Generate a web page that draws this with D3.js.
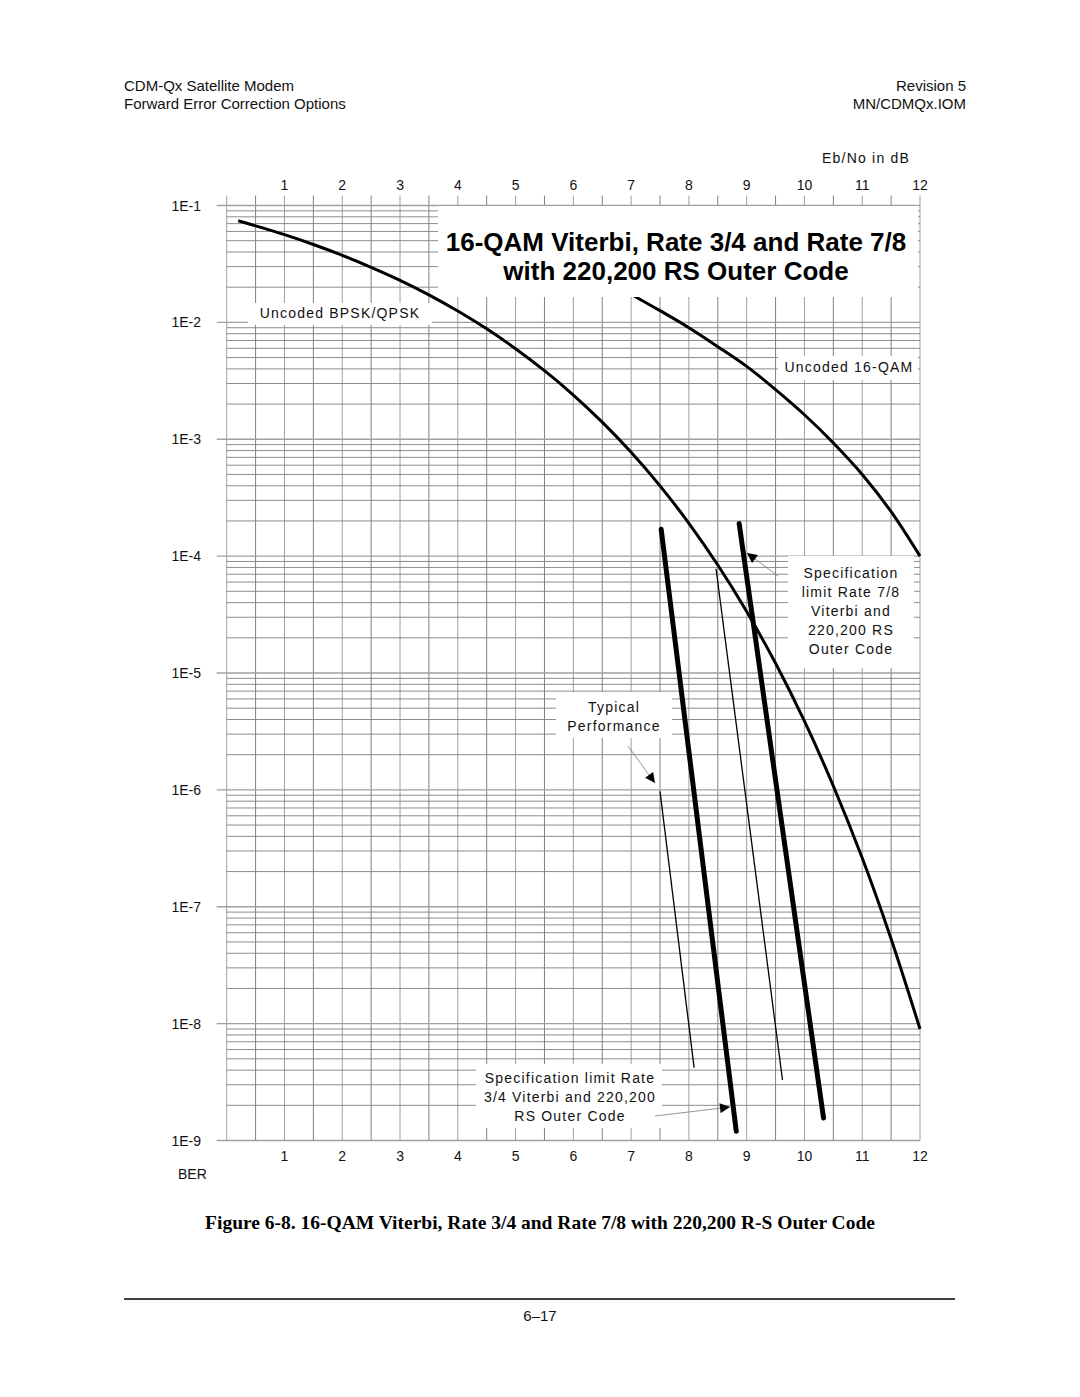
<!DOCTYPE html>
<html>
<head>
<meta charset="utf-8">
<script src="https://cdn.jsdelivr.net/npm/d3@7"></script>
<style>
  body { margin: 0; background: #fff; }
  svg { display: block; }
  .hdr { font-family: "Liberation Sans", Arial, sans-serif; font-size: 15px; fill: #111; }
  .tick-lbl { font-family: "Liberation Sans", Arial, sans-serif; font-size: 14px; fill: #111; }
  .note { font-family: "Liberation Sans", Arial, sans-serif; font-size: 14px; fill: #111; letter-spacing: 1.2px; }
</style>
</head>
<body>
<svg id="page" width="1080" height="1397"></svg>
<script>
// Eb/No (dB) vs BER
const qpskEbNo = [0.2, 0.5, 1, 1.5, 2, 2.5, 3, 3.5, 4, 4.5, 5, 5.5, 6, 6.5, 7, 7.5, 8, 8.5, 9, 9.5, 10, 10.5, 11, 11.5, 12];
const qpskBer  = [7.4e-2, 6.7e-2, 5.63e-2, 4.64e-2, 3.75e-2, 2.96e-2, 2.29e-2, 1.72e-2, 1.25e-2, 8.8e-3, 5.95e-3, 3.86e-3, 2.39e-3, 1.40e-3, 7.73e-4, 3.99e-4, 1.91e-4, 8.4e-5, 3.36e-5, 1.21e-5, 3.87e-6, 1.08e-6, 2.61e-7, 5.3e-8, 9.0e-9];

const qam16EbNo = [6.5, 7.0, 7.5, 8.0, 8.5, 9.0, 9.5, 10, 10.5, 11, 11.5, 12];
const qam16Ber  = [2.4e-2, 1.74e-2, 1.26e-2, 9.0e-3, 6.2e-3, 4.2e-3, 2.66e-3, 1.62e-3, 9.3e-4, 5.0e-4, 2.4e-4, 1.0e-4];

// thick = specification limit, thin = typical performance
const spec34EbNo = [7.52, 8.82];
const spec34Ber  = [1.7e-4, 1.2e-9];
const spec78EbNo = [8.87, 10.33];
const spec78Ber  = [1.9e-4, 1.56e-9];
const typ34EbNo  = [7.50, 8.09];
const typ34Ber   = [9.7e-7, 4.2e-9];
const typ78EbNo  = [8.47, 9.62];
const typ78Ber   = [7.8e-5, 3.3e-9];

const xTicks = [1, 2, 3, 4, 5, 6, 7, 8, 9, 10, 11, 12];
const yTicks = [1e-1, 1e-2, 1e-3, 1e-4, 1e-5, 1e-6, 1e-7, 1e-8, 1e-9];
const yTickLabels = ["1E-1", "1E-2", "1E-3", "1E-4", "1E-5", "1E-6", "1E-7", "1E-8", "1E-9"];

const svg = d3.select("#page");

// page header
svg.append("text").attr("class", "hdr").attr("x", 124).attr("y", 91).text("CDM-Qx Satellite Modem");
svg.append("text").attr("class", "hdr").attr("x", 124).attr("y", 109).text("Forward Error Correction Options");
svg.append("text").attr("class", "hdr").attr("x", 966).attr("y", 91).attr("text-anchor", "end").text("Revision 5");
svg.append("text").attr("class", "hdr").attr("x", 966).attr("y", 109).attr("text-anchor", "end").text("MN/CDMQx.IOM");

const x = d3.scaleLinear().domain([0, 12]).range([226.7, 920]);
const y = d3.scaleLog().domain([1e-1, 1e-9]).range([205.5, 1140.5]);

const g = svg.append("g");

// vertical grid every 0.5 dB, with top ticks
const xHalf = d3.range(0, 12.01, 0.5);
g.selectAll("line.vgrid").data(xHalf).enter().append("line")
  .attr("class", "vgrid")
  .attr("x1", d => x(d)).attr("x2", d => x(d))
  .attr("y1", y(1e-1) - 10).attr("y2", y(1e-9))
  .attr("stroke", (d, i) => i % 2 ? "#808080" : "#a0a0a0")
  .attr("stroke-width", 1);

// horizontal minor log grid
const minor = [];
for (let e = -9; e < -1; e++) for (let k = 2; k <= 9; k++) minor.push(k * Math.pow(10, e));
g.selectAll("line.hgrid").data(minor).enter().append("line")
  .attr("class", "hgrid")
  .attr("x1", x(0)).attr("x2", x(12))
  .attr("y1", d => y(d)).attr("y2", d => y(d))
  .attr("stroke", "#808080").attr("stroke-width", 0.9);

// decade lines extend left as ticks
g.selectAll("line.major").data(yTicks).enter().append("line")
  .attr("x1", x(0) - 10).attr("x2", x(12))
  .attr("y1", d => y(d)).attr("y2", d => y(d))
  .attr("stroke", "#a0a0a0").attr("stroke-width", 1.4);

// tick labels
g.selectAll("text.ytl").data(yTicks).enter().append("text")
  .attr("class", "tick-lbl").attr("text-anchor", "end")
  .attr("x", 201).attr("y", d => y(d) + 5)
  .text((d, i) => yTickLabels[i]);
g.selectAll("text.xtt").data(xTicks).enter().append("text")
  .attr("class", "tick-lbl").attr("text-anchor", "middle")
  .attr("x", d => x(d)).attr("y", 190).text(d => d);
g.selectAll("text.xtb").data(xTicks).enter().append("text")
  .attr("class", "tick-lbl").attr("text-anchor", "middle")
  .attr("x", d => x(d)).attr("y", 1161).text(d => d);
g.append("text").attr("class", "tick-lbl").attr("x", 910).attr("y", 163)
  .attr("text-anchor", "end").attr("letter-spacing", 1.2).text("Eb/No in dB");
g.append("text").attr("class", "tick-lbl").attr("x", 178).attr("y", 1179).text("BER");

const line = d3.line().x(d => x(d[0])).y(d => y(d[1])).curve(d3.curveCatmullRom.alpha(0.5));
const pairs = (a, b) => a.map((v, i) => [v, b[i]]);

// uncoded 16-QAM first, the title box hides its top end
g.append("path").datum(pairs(qam16EbNo, qam16Ber)).attr("d", line)
  .attr("fill", "none").attr("stroke", "#000").attr("stroke-width", 3);

// title box
g.append("rect").attr("x", 438).attr("y", 206).attr("width", 480).attr("height", 91).attr("fill", "#fff");
g.append("text").attr("x", 676).attr("y", 251).attr("text-anchor", "middle")
  .style("font-family", "Liberation Sans, Arial, sans-serif").style("font-weight", "bold").style("font-size", "26px")
  .text("16-QAM Viterbi, Rate 3/4 and Rate 7/8");
g.append("text").attr("x", 676).attr("y", 280).attr("text-anchor", "middle")
  .style("font-family", "Liberation Sans, Arial, sans-serif").style("font-weight", "bold").style("font-size", "26px")
  .text("with 220,200 RS Outer Code");

// label boxes
function note(lines, cx, cy0, box) {
  g.append("rect").attr("x", box[0]).attr("y", box[1]).attr("width", box[2]).attr("height", box[3]).attr("fill", "#fff");
  lines.forEach((t, i) => {
    g.append("text").attr("class", "note").attr("text-anchor", "middle")
      .attr("x", cx).attr("y", cy0 + i * 19).text(t);
  });
}
note(["Uncoded BPSK/QPSK"], 340, 318, [248, 303, 184, 22]);
note(["Uncoded 16-QAM"], 849, 372, [778, 356, 140, 24]);
note(["Specification", "limit  Rate 7/8", "Viterbi and", "220,200 RS", "Outer Code"], 851, 578, [788, 556, 126, 112]);
note(["Typical", "Performance"], 614, 712, [556, 692, 116, 46]);
note(["Specification limit  Rate", "3/4 Viterbi and 220,200", "RS Outer Code"], 570, 1083, [476, 1064, 186, 64]);

// uncoded BPSK/QPSK
g.append("path").datum(pairs(qpskEbNo, qpskBer)).attr("d", line)
  .attr("fill", "none").attr("stroke", "#000").attr("stroke-width", 3);

// spec limit (thick) and typical (thin)
const straight = d3.line().x(d => x(d[0])).y(d => y(d[1]));
[[spec34EbNo, spec34Ber], [spec78EbNo, spec78Ber]].forEach(s => {
  g.append("path").datum(pairs(s[0], s[1])).attr("d", straight)
    .attr("fill", "none").attr("stroke", "#000").attr("stroke-width", 5).attr("stroke-linecap", "round");
});
[[typ34EbNo, typ34Ber], [typ78EbNo, typ78Ber]].forEach(s => {
  g.append("path").datum(pairs(s[0], s[1])).attr("d", straight)
    .attr("fill", "none").attr("stroke", "#000").attr("stroke-width", 1.3);
});

// arrows
svg.append("defs").append("marker").attr("id", "ah")
  .attr("viewBox", "0 0 10 10").attr("refX", 10).attr("refY", 5)
  .attr("markerWidth", 15).attr("markerHeight", 10).attr("markerUnits", "userSpaceOnUse")
  .attr("orient", "auto")
  .append("path").attr("d", "M0,0 L10,5 L0,10 Z").attr("fill", "#000");
const arrows = [[778, 576, 747, 553], [628, 746, 655, 783], [655, 1116, 730, 1107]];
g.selectAll("line.arrow").data(arrows).enter().append("line")
  .attr("x1", d => d[0]).attr("y1", d => d[1]).attr("x2", d => d[2]).attr("y2", d => d[3])
  .attr("stroke", "#777").attr("stroke-width", 0.8).attr("marker-end", "url(#ah)");

// caption and footer
svg.append("text").attr("x", 540).attr("y", 1229).attr("text-anchor", "middle")
  .style("font-family", "Liberation Serif, Times New Roman, serif").style("font-weight", "bold").style("font-size", "19.5px")
  .text("Figure 6-8. 16-QAM Viterbi, Rate 3/4 and Rate 7/8 with 220,200 R-S Outer Code");
svg.append("line").attr("x1", 124).attr("x2", 955).attr("y1", 1299).attr("y2", 1299)
  .attr("stroke", "#000").attr("stroke-width", 1.5);
svg.append("text").attr("class", "hdr").attr("x", 540).attr("y", 1321).attr("text-anchor", "middle").text("6–17");
</script>
</body>
</html>
